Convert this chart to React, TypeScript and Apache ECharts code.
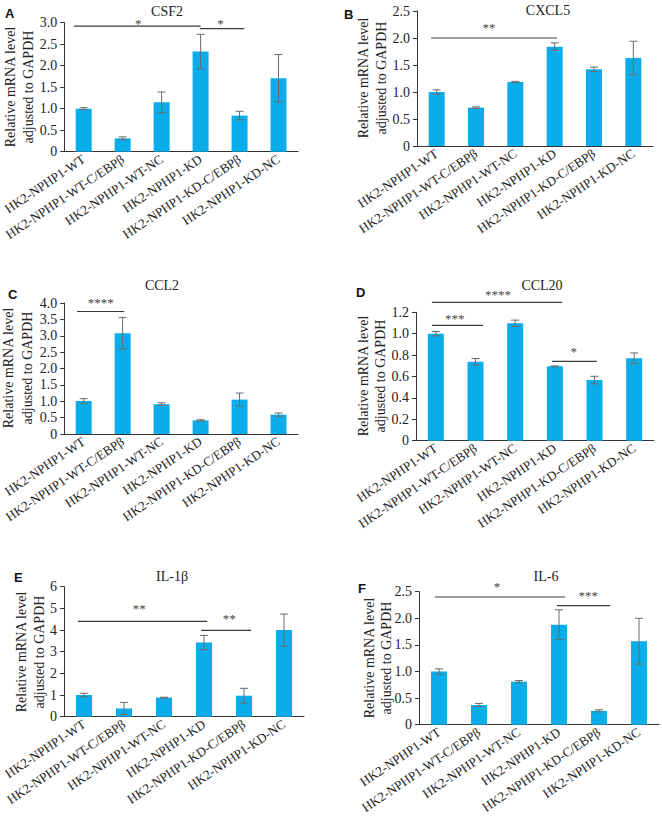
import React, { useEffect, useRef } from "react";
import * as echarts from "echarts";

const categories = [
  "HK2-NPHP1-WT",
  "HK2-NPHP1-WT-C/EBPβ",
  "HK2-NPHP1-WT-NC",
  "HK2-NPHP1-KD",
  "HK2-NPHP1-KD-C/EBPβ",
  "HK2-NPHP1-KD-NC",
];

const titles = ["CSF2", "CXCL5", "CCL2", "CCL20", "IL-1β", "IL-6"];
const letters = ["A", "B", "C", "D", "E", "F"];
const yNameLines = ["Relative mRNA level", "adjusted to GAPDH"];

const csf2Mean = [1.0, 0.31, 1.15, 2.33, 0.84, 1.71];
const csf2Err = [0.025, 0.035, 0.24, 0.4, 0.1, 0.55];
const cxcl5Mean = [1.0, 0.71, 1.185, 1.84, 1.42, 1.63];
const cxcl5Err = [0.04, 0.015, 0.012, 0.07, 0.04, 0.31];
const ccl2Mean = [1.01, 3.08, 0.91, 0.415, 1.05, 0.59];
const ccl2Err = [0.07, 0.48, 0.04, 0.02, 0.2, 0.05];
const ccl20Mean = [1.0, 0.738, 1.097, 0.695, 0.567, 0.77];
const ccl20Err = [0.02, 0.03, 0.03, 0.004, 0.035, 0.05];
const il1bMean = [1.0, 0.38, 0.88, 3.42, 0.97, 4.0];
const il1bErr = [0.08, 0.28, 0.02, 0.33, 0.34, 0.74];
const il6Mean = [1.0, 0.37, 0.81, 1.88, 0.26, 1.57];
const il6Err = [0.05, 0.03, 0.02, 0.28, 0.02, 0.43];

const yMax = [3, 2.5, 4, 1.2, 6, 2.5];
const yStep = [0.5, 0.5, 0.5, 0.2, 1, 0.5];

// significance brackets: x in category units (0..6), y in value units
const csf2Sig = [
  { x1: 0.25, x2: 3.5, y: 2.92, tx: 1.9, ty: 2.98, text: "*" },
  { x1: 3.48, x2: 4.62, y: 2.86, tx: 4.01, ty: 2.98, text: "*" },
];
const cxcl5Sig = [{ x1: 0.36, x2: 3.56, y: 2.0, tx: 1.83, ty: 2.19, text: "**" }];
const ccl2Sig = [{ x1: 0.33, x2: 1.54, y: 3.74, tx: 0.94, ty: 4.02, text: "****" }];
const ccl20Sig = [
  { x1: 0.4, x2: 3.68, y: 1.293, tx: 2.07, ty: 1.366, text: "****" },
  { x1: 0.4, x2: 1.69, y: 1.078, tx: 0.98, ty: 1.145, text: "***" },
  { x1: 3.43, x2: 4.56, y: 0.742, tx: 3.98, ty: 0.834, text: "*" },
];
const il1bSig = [
  { x1: 0.35, x2: 3.58, y: 4.4, tx: 1.88, ty: 4.98, text: "**" },
  { x1: 3.43, x2: 4.68, y: 3.98, tx: 4.13, ty: 4.52, text: "**" },
];
const il6Sig = [
  { x1: 0.4, x2: 3.65, y: 2.4, tx: 1.95, ty: 2.6, text: "*" },
  { x1: 3.45, x2: 4.78, y: 2.24, tx: 4.23, ty: 2.43, text: "***" },
];

const means = [csf2Mean, cxcl5Mean, ccl2Mean, ccl20Mean, il1bMean, il6Mean];
const errs = [csf2Err, cxcl5Err, ccl2Err, ccl20Err, il1bErr, il6Err];
const sigs = [csf2Sig, cxcl5Sig, ccl2Sig, ccl20Sig, il1bSig, il6Sig];

// layout (pixels)
const layout = [
  { left: 61, top: 22.7, width: 237, height: 129, nameX: [10, 28], nameY: 87, letter: [5, 13], title: [167, 11] },
  { left: 417, top: 11, width: 236, height: 135, nameX: [363, 381], nameY: 78, letter: [344, 14], title: [548, 10.5] },
  { left: 61, top: 303, width: 237, height: 131, nameX: [8.5, 27], nameY: 368, letter: [8, 294], title: [162, 285] },
  { left: 416, top: 312.3, width: 238, height: 128.4, nameX: [363, 380], nameY: 376, letter: [356, 292.5], title: [542, 285] },
  { left: 64, top: 586.7, width: 240, height: 130, nameX: [21, 39], nameY: 652, letter: [14, 577], title: [172, 576.7] },
  { left: 419, top: 591.7, width: 240, height: 133, nameX: [369, 386], nameY: 658, letter: [358, 588], title: [546, 576] },
];

const SERIF = "'Liberation Serif', 'Times New Roman', serif";
const SANS = "'Liberation Sans', Arial, sans-serif";
const BAR = "#0AADE9";

export default function App() {
  const ref = useRef<HTMLDivElement>(null);
  useEffect(() => {
    document.body.style.margin = "0";
    if (!ref.current) return;
    const chart = echarts.init(ref.current, undefined, { renderer: "svg" });
    const grid: any[] = [];
    const xAxis: any[] = [];
    const yAxis: any[] = [];
    const series: any[] = [];
    const graphic: any[] = [];
    layout.forEach((l, k) => {
      grid.push({ left: l.left, top: l.top, width: l.width, height: l.height, containLabel: false });
      xAxis.push({
        type: "category",
        gridIndex: k,
        data: categories,
        axisLine: { lineStyle: { color: "#333", width: 1 } },
        axisTick: { show: false },
        axisLabel: {
          interval: 0,
          rotate: 34,
          margin: 6,
          fontFamily: SERIF,
          fontSize: 13,
          color: "#222",
        },
      });
      xAxis.push({ type: "value", gridIndex: k, min: 0, max: 6, show: false });
      yAxis.push({
        type: "value",
        gridIndex: k,
        min: 0,
        max: yMax[k],
        interval: yStep[k],
        splitLine: { show: false },
        axisLine: { show: true, lineStyle: { color: "#333", width: 1 } },
        axisTick: { show: true, length: 4, lineStyle: { color: "#333" } },
        axisLabel: {
          margin: 7,
          fontFamily: SERIF,
          fontSize: 14,
          color: "#222",
          formatter: (v: number) => (v === 0 ? "0" : yStep[k] >= 1 ? String(v) : v.toFixed(1)),
        },
      });
      series.push({
        type: "bar",
        xAxisIndex: 2 * k,
        yAxisIndex: k,
        barWidth: 16,
        data: means[k],
        itemStyle: { color: BAR },
      });
      series.push({
        type: "custom",
        xAxisIndex: 2 * k,
        yAxisIndex: k,
        encode: { x: 0, y: [1, 2] },
        data: means[k].map((m, i) => [i, m - errs[k][i], m + errs[k][i]]),
        z: 5,
        renderItem: (params: any, api: any) => {
          const hi = api.coord([api.value(0), api.value(2)]);
          const lo = api.coord([api.value(0), api.value(1)]);
          const w = 4;
          const st = { stroke: "#6a6a6a", lineWidth: 1 };
          return {
            type: "group",
            children: [
              { type: "line", shape: { x1: hi[0], y1: hi[1], x2: lo[0], y2: lo[1] }, style: st },
              { type: "line", shape: { x1: hi[0] - w, y1: hi[1], x2: hi[0] + w, y2: hi[1] }, style: st },
              { type: "line", shape: { x1: lo[0] - w, y1: lo[1], x2: lo[0] + w, y2: lo[1] }, style: st },
            ],
          };
        },
      });
      const sig = sigs[k];
      series.push({
        type: "custom",
        xAxisIndex: 2 * k + 1,
        yAxisIndex: k,
        clip: false,
        encode: { x: [0, 1, 3], y: [2, 4] },
        data: sig.map((s) => [s.x1, s.x2, s.y, s.tx, s.ty]),
        z: 6,
        renderItem: (params: any, api: any) => {
          const p1 = api.coord([api.value(0), api.value(2)]);
          const p2 = api.coord([api.value(1), api.value(2)]);
          const pt = api.coord([api.value(3), api.value(4)]);
          return {
            type: "group",
            children: [
              {
                type: "line",
                shape: { x1: p1[0], y1: p1[1], x2: p2[0], y2: p2[1] },
                style: { stroke: "#3a3a3a", lineWidth: 1.2 },
              },
              {
                type: "text",
                x: pt[0],
                y: pt[1],
                style: {
                  text: sig[params.dataIndex].text,
                  fill: "#444",
                  font: `13px ${SERIF}`,
                  align: "center",
                  verticalAlign: "middle",
                  textAlign: "center",
                  textVerticalAlign: "middle",
                },
              },
            ],
          };
        },
      });
      graphic.push({
        type: "text",
        x: l.letter[0],
        y: l.letter[1],
        style: {
          text: letters[k],
          font: `bold 13px ${SANS}`,
          fill: "#111",
          align: "left",
          verticalAlign: "middle",
          textAlign: "left",
          textVerticalAlign: "middle",
        },
      });
      graphic.push({
        type: "text",
        x: l.title[0],
        y: l.title[1],
        style: {
          text: titles[k],
          font: `14px ${SERIF}`,
          fill: "#222",
          align: "center",
          verticalAlign: "middle",
          textAlign: "center",
          textVerticalAlign: "middle",
        },
      });
      yNameLines.forEach((t, j) => {
        graphic.push({
          type: "text",
          x: l.nameX[j],
          y: l.nameY,
          rotation: Math.PI / 2,
          style: {
            text: t,
            font: `14px ${SERIF}`,
            fill: "#222",
            align: "center",
            verticalAlign: "middle",
            textAlign: "center",
            textVerticalAlign: "middle",
          },
        });
      });
    });
    chart.setOption({
      animation: false,
      backgroundColor: "#fff",
      grid,
      xAxis,
      yAxis,
      series,
      graphic,
    });
    return () => chart.dispose();
  }, []);
  return <div ref={ref} style={{ width: 662, height: 819 }} />;
}
